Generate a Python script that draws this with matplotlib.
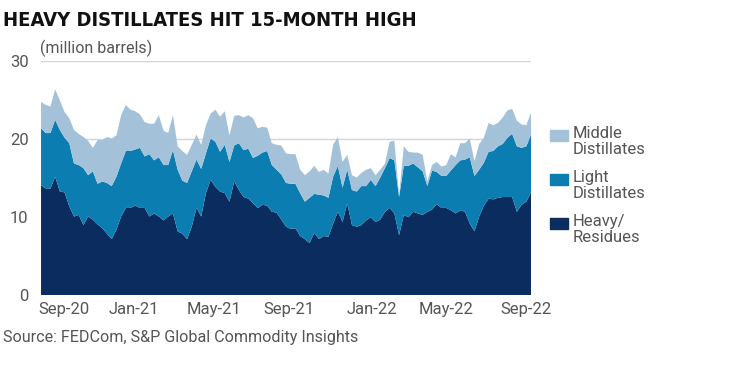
import matplotlib
matplotlib.use('Agg')
import matplotlib.pyplot as plt
from matplotlib.patches import Rectangle
import numpy as np

plt.rcParams['font.family'] = ['Roboto', 'DejaVu Sans']

# weekly stocks, million barrels
heavy = [14.1, 13.7, 13.7, 15.2, 13.3, 13.2, 11.4, 10.1, 10.3, 9.0,
         10.1, 9.7, 9.1, 8.6, 7.9, 7.2, 8.4, 10.1, 11.2, 11.2,
         11.5, 11.2, 11.2, 10.1, 10.5, 10.1, 9.6, 10.1, 10.5, 8.2,
         7.9, 7.2, 8.8, 11.2, 10.1, 13.1, 14.8, 13.9, 13.3, 13.1,
         12.0, 14.6, 13.5, 12.6, 12.4, 11.8, 11.2, 11.6, 11.5, 10.7,
         10.6, 9.7, 8.8, 8.5, 8.6, 7.6, 7.2, 6.7, 8.0, 7.2,
         7.6, 7.5, 9.2, 10.7, 9.4, 11.8, 9.0, 8.8, 9.0, 9.6,
         10.0, 9.4, 9.7, 10.7, 11.2, 10.5, 7.7, 10.3, 10.0, 10.7,
         10.5, 10.3, 10.7, 11.0, 11.7, 11.2, 11.2, 10.9, 10.5, 10.9,
         10.7, 9.2, 8.2, 10.1, 11.5, 12.4, 12.3, 12.5, 12.6, 12.6,
         12.6, 10.7, 11.6, 12.0, 13.2]
light = [7.3, 7.1, 7.1, 7.3, 7.9, 7.0, 8.1, 6.8, 6.4, 7.3,
         5.3, 6.2, 5.2, 6.0, 6.5, 6.8, 6.8, 6.8, 7.3, 7.3,
         7.2, 7.7, 6.6, 8.0, 6.8, 7.6, 7.1, 6.6, 8.1, 7.9,
         6.8, 7.2, 7.1, 6.2, 6.1, 5.1, 5.3, 5.8, 5.1, 6.2,
         5.1, 4.6, 6.0, 6.0, 6.4, 5.8, 6.7, 6.7, 7.0, 6.0,
         5.5, 5.8, 5.6, 5.8, 5.7, 5.5, 4.8, 5.8, 5.0, 5.7,
         5.2, 5.0, 6.0, 5.9, 4.4, 4.3, 4.5, 4.5, 5.0, 4.4,
         4.8, 4.6, 5.4, 5.6, 6.4, 6.8, 4.9, 6.3, 6.6, 6.2,
         5.9, 5.6, 3.3, 5.0, 4.1, 4.1, 4.1, 5.1, 6.2, 6.4,
         6.7, 8.5, 7.1, 6.0, 5.5, 6.0, 6.2, 6.6, 6.8, 7.6,
         8.1, 8.4, 7.3, 7.1, 7.4]
middle = [3.4, 3.6, 3.4, 3.9, 3.8, 3.3, 3.2, 4.3, 4.0, 4.0,
          4.4, 3.0, 5.6, 5.3, 5.9, 6.1, 5.3, 6.2, 5.9, 5.3,
          4.9, 4.3, 4.4, 3.9, 4.7, 5.4, 4.4, 4.1, 4.5, 3.0,
          3.8, 3.6, 3.4, 3.2, 3.1, 3.6, 3.2, 4.1, 4.5, 4.3,
          3.4, 3.8, 3.6, 4.2, 4.3, 5.1, 3.5, 3.3, 3.0, 2.8,
          3.2, 3.7, 3.8, 3.8, 3.8, 3.0, 3.4, 3.4, 3.6, 2.9,
          3.3, 3.1, 4.1, 3.7, 3.3, 1.9, 1.9, 1.8, 1.7, 2.1,
          1.5, 1.4, 1.0, 0.6, 2.1, 2.5, 0.2, 2.5, 1.8, 1.4,
          1.9, 2.1, 0.6, 0.7, 1.3, 1.2, 1.4, 2.1, 1.0, 2.2,
          2.1, 2.4, 1.9, 3.3, 3.2, 3.7, 3.3, 3.0, 3.4, 3.5,
          3.2, 3.3, 3.0, 2.7, 2.8]

names = ['Heavy/\nResidues', 'Light\nDistillates', 'Middle\nDistillates']
colors = ['#0b2c5f', '#0b7db1', '#a3c2da']
tick_labels = ['Sep-20', 'Jan-21', 'May-21', 'Sep-21', 'Jan-22', 'May-22', 'Sep-22']
tick_pos = [4.8, 19.7, 36.7, 52.7, 70.2, 85.9, 102.9]

weeks = np.arange(len(heavy))

fig = plt.figure(figsize=(7.5, 3.76), dpi=100)
ax = fig.add_axes([0.0547, 0.2146, 0.6533, 0.6224])

ax.stackplot(weeks, heavy, light, middle, colors=colors, lw=0, zorder=2)

ax.set_xlim(0, len(heavy) - 1)
ax.set_ylim(0, 30)
ax.set_yticks([0, 10, 20, 30])
ax.set_xticks(tick_pos)
ax.set_xticklabels(tick_labels)
ax.grid(axis='y', color='#d4d4d4', lw=1, zorder=0)
ax.set_axisbelow(True)
for s in ax.spines.values():
    s.set_visible(False)
ax.tick_params(length=0, labelsize=12, colors='#555555')
ax.tick_params(axis='y', pad=9)
ax.tick_params(axis='x', pad=5)

fig.text(0.004, 0.945, 'HEAVY DISTILLATES HIT 15-MONTH HIGH', fontsize=14.5,
         fontweight='bold', fontstretch='condensed', va='center', color='#111111',
         family='DejaVu Sans')
fig.text(0.053, 0.872, '(million barrels)', fontsize=11.5, va='center', color='#555555')
fig.text(0.004, 0.103, 'Source: FEDCom, S&P Global Commodity Insights', fontsize=11.6,
         va='center', color='#555555')

# legend, top entry first
for i, (name, c) in enumerate(zip(names[::-1], colors[::-1])):
    y = 130 + i * 44
    fig.patches.append(Rectangle((550 / 750, 1 - (y + 11) / 376), 18 / 750, 11 / 376,
                                 transform=fig.transFigure, color=c))
    fig.text(573 / 750, 1 - (y - 4) / 376, name, fontsize=12, va='top',
             linespacing=1.05, color='#555555')

fig.savefig('out.png', dpi=100)
